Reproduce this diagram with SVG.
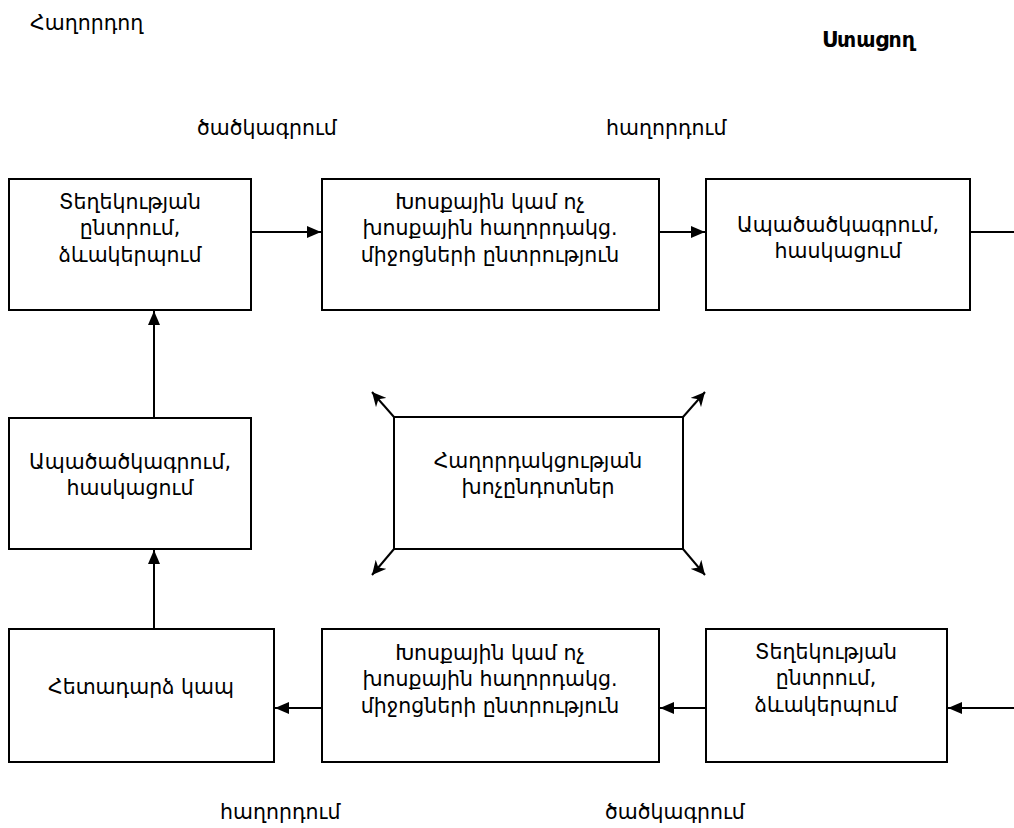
<svg xmlns="http://www.w3.org/2000/svg" width="1014" height="828" viewBox="0 0 1014 828">
<style>
.b{fill:#fff;stroke:#000;stroke-width:2}
.t{font-family:"DejaVu Sans","Noto Sans",sans-serif;font-size:20.5px;fill:#000;text-anchor:middle}
.l{font-family:"DejaVu Sans","Noto Sans",sans-serif;font-size:20.5px;fill:#000}
.c{stroke:#000;stroke-width:2;fill:none}
</style>
<defs>
<marker id="a" viewBox="0 0 14 12" refX="14" refY="6" markerWidth="14" markerHeight="12" orient="auto" markerUnits="userSpaceOnUse">
<path d="M0,0L14,6L0,12z" fill="#000"/>
</marker>
<marker id="d" viewBox="0 0 10 10" refX="10" refY="5" markerWidth="14" markerHeight="14" orient="auto" markerUnits="userSpaceOnUse">
<path d="M0,0L10,5L0,10L3,5z" fill="#000"/>
</marker>
</defs>
<text class="l" x="30" y="30">Հաղորդող</text>
<text class="l" x="822" y="47" font-weight="bold">Ստացող</text>
<text class="l" x="197" y="135">ծածկագրում</text>
<text class="l" x="606" y="135">հաղորդում</text>
<text class="l" x="220" y="819">հաղորդում</text>
<text class="l" x="605" y="819">ծածկագրում</text>
<g id="connectors">
<line class="c" x1="251" y1="232" x2="321" y2="232" marker-end="url(#a)"/>
<line class="c" x1="659" y1="232" x2="705" y2="232" marker-end="url(#a)"/>
<line class="c" x1="970" y1="232" x2="1014" y2="232"/>
<line class="c" x1="154" y1="418" x2="154" y2="311" marker-end="url(#a)"/>
<line class="c" x1="154" y1="629" x2="154" y2="550" marker-end="url(#a)"/>
<line class="c" x1="1014" y1="708" x2="948" y2="708" marker-end="url(#a)"/>
<line class="c" x1="706" y1="708" x2="660" y2="708" marker-end="url(#a)"/>
<line class="c" x1="322" y1="708" x2="275" y2="708" marker-end="url(#a)"/>
<line class="c" x1="394" y1="417" x2="372" y2="392" marker-end="url(#d)"/>
<line class="c" x1="683" y1="417" x2="705" y2="392" marker-end="url(#d)"/>
<line class="c" x1="394" y1="549" x2="372" y2="575" marker-end="url(#d)"/>
<line class="c" x1="683" y1="549" x2="705" y2="575" marker-end="url(#d)"/>
</g>
<g id="n1"><rect class="b" x="9" y="179" width="242" height="131"/>
<text class="t" x="130" y="209">Տեղեկության</text><text class="t" x="130" y="235">ընտրում,</text><text class="t" x="130" y="262">ձևակերպում</text></g>
<g id="n2"><rect class="b" x="322" y="179" width="337" height="131"/>
<text class="t" x="490" y="209">Խոսքային կամ ոչ</text><text class="t" x="490" y="235">խոսքային հաղորդակց.</text><text class="t" x="490" y="262">միջոցների ընտրություն</text></g>
<g id="n3"><rect class="b" x="706" y="179" width="264" height="131"/>
<text class="t" x="838" y="232">Ապածածկագրում,</text><text class="t" x="838" y="258">հասկացում</text></g>
<g id="n4"><rect class="b" x="9" y="418" width="242" height="131"/>
<text class="t" x="130" y="469">Ապածածկագրում,</text><text class="t" x="130" y="495">հասկացում</text></g>
<g id="n5"><rect class="b" x="394" y="417" width="289" height="132"/>
<text class="t" x="538" y="468">Հաղորդակցության</text><text class="t" x="538" y="494">խոչընդոտներ</text></g>
<g id="n6"><rect class="b" x="9" y="629" width="265" height="133"/>
<text class="t" x="141" y="694">Հետադարձ կապ</text></g>
<g id="n7"><rect class="b" x="322" y="629" width="337" height="133"/>
<text class="t" x="490" y="660">Խոսքային կամ ոչ</text><text class="t" x="490" y="686">խոսքային հաղորդակց.</text><text class="t" x="490" y="713">միջոցների ընտրություն</text></g>
<g id="n8"><rect class="b" x="706" y="629" width="241" height="133"/>
<text class="t" x="826" y="659">Տեղեկության</text><text class="t" x="826" y="685">ընտրում,</text><text class="t" x="826" y="712">ձևակերպում</text></g>
</svg>
